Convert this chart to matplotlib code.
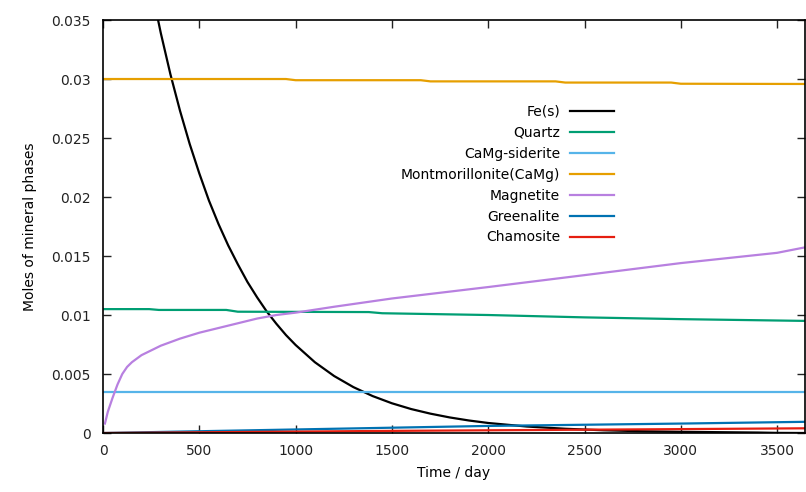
import matplotlib
matplotlib.use("Agg")
import matplotlib.pyplot as plt
from matplotlib.ticker import FuncFormatter, MultipleLocator

# Time grids (days)
t_fe = [0, 50, 100, 150, 200, 250, 300, 350, 400, 450, 500, 550, 600, 650, 700,
        750, 800, 850, 900, 950, 1000, 1100, 1200, 1300, 1400, 1500, 1600, 1700,
        1800, 1900, 2000, 2200, 2400, 2600, 2800, 3000, 3200, 3400, 3500, 3650]
fe_s = [0.065, 0.0583, 0.0523, 0.0469, 0.0421, 0.0378, 0.0339, 0.0304, 0.0273,
        0.0245, 0.0220, 0.0197, 0.0177, 0.0159, 0.0143, 0.0128, 0.0115, 0.0103,
        0.00926, 0.00830, 0.00746, 0.00600, 0.00483, 0.00389, 0.00313, 0.00252,
        0.00203, 0.00164, 0.00132, 0.00106, 0.00085, 0.00055, 0.00036, 0.00023,
        0.00015, 0.00010, 0.00007, 0.00004, 0.00001, 0.0]

t_qz = [0, 240, 290, 640, 700, 1380, 1450, 2000, 2500, 3000, 3650]
quartz = [0.0105, 0.0105, 0.01043, 0.01043, 0.01028, 0.01025, 0.01015, 0.0100,
          0.0098, 0.00965, 0.0095]

t_sid = [0, 3650]
siderite = [0.0035, 0.0035]

t_mont = [0, 950, 1000, 1650, 1700, 2350, 2400, 2950, 3000, 3650]
montmorillonite = [0.0300, 0.0300, 0.02990, 0.02990, 0.02980, 0.02980, 0.02970,
                   0.02970, 0.02960, 0.02958]

t_mag = [10, 25, 50, 75, 100, 125, 150, 200, 250, 300, 400, 500, 600, 700, 800,
         900, 1000, 1200, 1500, 2000, 2500, 3000, 3500, 3650]
magnetite = [0.0008, 0.0018, 0.0030, 0.0041, 0.0050, 0.0056, 0.0060, 0.0066,
             0.0070, 0.0074, 0.0080, 0.0085, 0.0089, 0.0093, 0.0097, 0.0100,
             0.0102, 0.0107, 0.0114, 0.01237, 0.01338, 0.0144, 0.01527, 0.01575]

t_min = [0, 500, 1000, 1500, 2000, 2500, 3000, 3650]
greenalite = [0.0, 0.00015, 0.0003, 0.00045, 0.0006, 0.0007, 0.0008, 0.00095]
chamosite = [0.0, 0.00006, 0.00012, 0.00018, 0.00023, 0.00028, 0.00033, 0.0004]

series = [
    ("Fe(s)", t_fe, fe_s, "#000000"),
    ("Quartz", t_qz, quartz, "#009e73"),
    ("CaMg-siderite", t_sid, siderite, "#56b4e9"),
    ("Montmorillonite(CaMg)", t_mont, montmorillonite, "#e69f00"),
    ("Magnetite", t_mag, magnetite, "#b880e0"),
    ("Greenalite", t_min, greenalite, "#0072b2"),
    ("Chamosite", t_min, chamosite, "#e51e10"),
]

plt.rcParams["font.family"] = ["DejaVu Sans"]
fig = plt.figure(figsize=(8.06, 4.92), dpi=100)
ax = fig.add_axes([0.1278, 0.1199, 0.8710, 0.8394])

for label, t, y, c in series:
    ax.plot(t, y, color=c, lw=1.6, label=label)

ax.set_xlim(0, 3645)
ax.set_ylim(0, 0.035)
ax.xaxis.set_major_locator(MultipleLocator(500))
ax.yaxis.set_major_locator(MultipleLocator(0.005))
ax.yaxis.set_major_formatter(FuncFormatter(lambda v, p: "%g" % round(v, 4)))
ax.tick_params(direction="in", length=6, width=1.0, top=True, right=True,
               labelsize=10, pad=9, colors="#222222")
ax.tick_params(axis="x", pad=8)
for s in ax.spines.values():
    s.set_linewidth(1.2)

ax.set_xlabel("Time / day", fontsize=10, labelpad=6)
ax.set_ylabel("Moles of mineral phases", fontsize=10, labelpad=10)

leg = ax.legend(loc="upper right", bbox_to_anchor=(0.746, 0.825), frameon=False,
                markerfirst=False, fontsize=10, handlelength=3.2,
                handletextpad=0.7, labelspacing=0.5)
for txt in leg.get_texts():
    txt.set_ha("right")

fig.savefig("out.png", dpi=100)
